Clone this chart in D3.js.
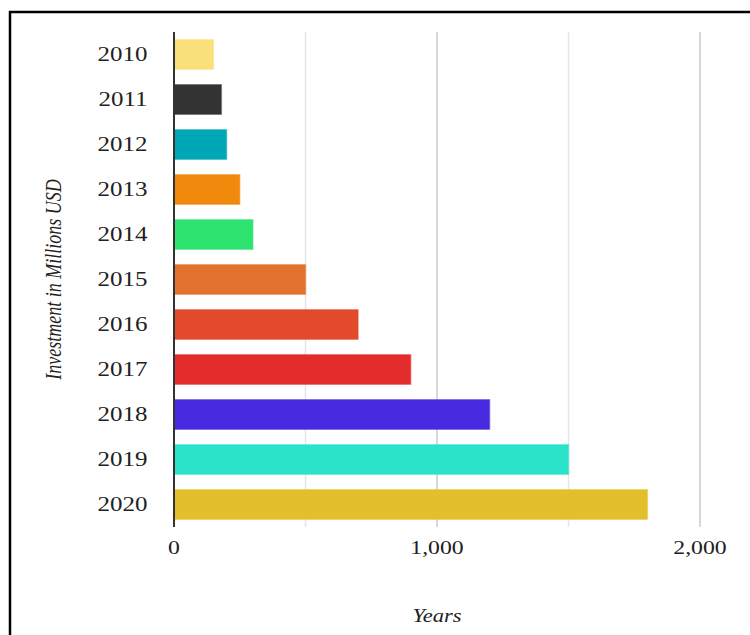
<!DOCTYPE html>
<html>
<head>
<meta charset="utf-8">
<script src="https://cdn.jsdelivr.net/npm/d3@7"></script>
<style>
  html, body { margin: 0; padding: 0; background: #fff; overflow: hidden; }
  svg { display: block; }
  text { font-family: "Liberation Serif", "Times New Roman", serif; }
</style>
</head>
<body>
<svg id="chart" width="750" height="635" viewBox="0 0 600 635" preserveAspectRatio="none"></svg>
<script>
const years = ["2010","2011","2012","2013","2014","2015","2016","2017","2018","2019","2020"];
const values = [150, 180, 200, 250, 300, 500, 700, 900, 1200, 1500, 1800];
const colors = ["#f9e07a","#333333","#00a7b6","#f0890c","#2ee270","#e2722e","#e34a2c","#e32d2d","#482ae0","#2ae3c8","#e2bf2b"];
const xTicks = [0, 1000, 2000];
const gridTicks = [500, 1000, 1500, 2000];
const xTitle = "Years";
const yTitle = "Investment in Millions USD";

const svg = d3.select("#chart");

// outer frame
svg.append("rect")
  .attr("x", 8).attr("y", 12).attr("width", 700).attr("height", 700)
  .attr("fill", "none").attr("stroke", "#000").attr("stroke-width", 2.5)
  .attr("vector-effect", "non-scaling-stroke");

const x = d3.scaleLinear().domain([0, 2000]).range([139.2, 560]);
const y = d3.scaleBand().domain(years).range([32, 527]).paddingInner(0.34).paddingOuter(0.17);
const [y0, y1] = y.range();

// gridlines
svg.append("g").selectAll("line").data(gridTicks).join("line")
  .attr("x1", d => x(d)).attr("x2", d => x(d))
  .attr("y1", y0).attr("y2", y1)
  .attr("stroke", d => d % 1000 === 0 ? "#cfcfcf" : "#e6e6e6")
  .attr("stroke-width", 1.6)
  .attr("vector-effect", "non-scaling-stroke");

// bars
svg.append("g").selectAll("rect").data(years).join("rect")
  .attr("x", x(0))
  .attr("y", d => y(d))
  .attr("width", (d, i) => x(values[i]) - x(0))
  .attr("height", y.bandwidth())
  .attr("fill", (d, i) => colors[i])
  .attr("stroke", (d, i) => colors[i])
  .attr("stroke-opacity", 0.45)
  .attr("stroke-width", 1.5)
  .attr("vector-effect", "non-scaling-stroke");

// y axis line
svg.append("line")
  .attr("x1", x(0)).attr("x2", x(0)).attr("y1", y0).attr("y2", y1)
  .attr("stroke", "#333").attr("stroke-width", 2)
  .attr("vector-effect", "non-scaling-stroke");

// y tick labels
svg.append("g").selectAll("text").data(years).join("text")
  .attr("x", 118)
  .attr("y", d => y(d) + y.bandwidth() / 2)
  .attr("dy", "0.35em")
  .attr("text-anchor", "end")
  .attr("font-size", 20)
  .attr("fill", "#222")
  .text(d => d);

// x tick labels
const fmt = d3.format(",");
svg.append("g").selectAll("text").data(xTicks).join("text")
  .attr("x", d => x(d))
  .attr("y", 554)
  .attr("text-anchor", "middle")
  .attr("font-size", 19)
  .attr("fill", "#222")
  .text(d => fmt(d));

// axis titles
svg.append("text")
  .attr("x", (x.range()[0] + x.range()[1]) / 2)
  .attr("y", 622)
  .attr("text-anchor", "middle")
  .attr("font-size", 18)
  .attr("font-style", "italic")
  .attr("fill", "#222")
  .text(xTitle);

svg.append("text")
  .attr("transform", `translate(49,${(y0 + y1) / 2}) rotate(-90)`)
  .attr("text-anchor", "middle")
  .attr("font-size", 18)
  .attr("font-style", "italic")
  .attr("fill", "#222")
  .text(yTitle);
</script>
</body>
</html>
